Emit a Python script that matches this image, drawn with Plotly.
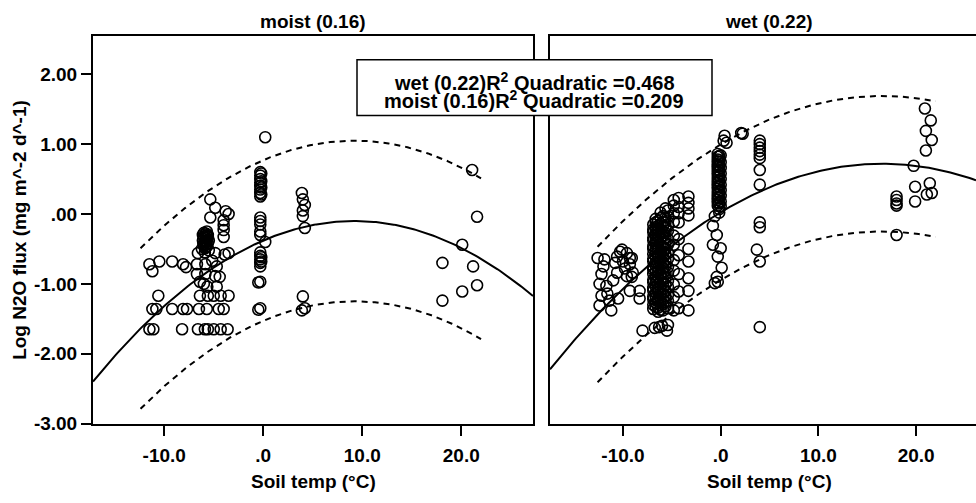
import numpy as np
import plotly.graph_objects as go

# ---- axis ticks -------------------------------------------------------------
x_tick_vals = [-10, 0, 10, 20]
x_tick_text = ["-10.0", ".0", "10.0", "20.0"]
y_tick_vals = [2, 1, 0, -1, -2, -3]
y_tick_text = ["2.00", "1.00", ".00", "-1.00", "-2.00", "-3.00"]

panel_titles = ["moist (0.16)", "wet (0.22)"]
x_title = "Soil temp (°C)"
y_title = "Log N2O flux (mg m^-2 d^-1)"
legend_lines = [
    "wet (0.22)R<sup>2</sup> Quadratic =0.468",
    "moist (0.16)R<sup>2</sup> Quadratic =0.209",
]

# ---- quadratic fits (vertex form) and prediction band half-width -------------
moist_fit = {"peak_x": 9.2, "peak_y": -0.10, "curv": 0.0033, "band": 1.15,
             "x_min": -12.4, "x_max": 22.0}
wet_fit = {"peak_x": 16.5, "peak_y": 0.72, "curv": 0.00255, "band": 0.97,
           "x_min": -12.6, "x_max": 22.0}

# ---- moist (0.16) observations ---------------------------------------------
moist_cold_x = [-11.5, -11.2, -10.5, -9.2, -8.1, -7.8, -10.6,
                -11.2, -10.8, -9.2, -8.1, -7.7, -6.5, -5.7, -4.5, -4.0,
                -11.5, -11.1, -8.2, -6.6, -5.9, -5.6, -5.0, -4.3, -3.6,
                -6.4, -5.6, -5.0, -4.3, -3.5]
moist_cold_y = [-0.72, -0.82, -0.68, -0.68, -0.72, -0.76, -1.17,
                -1.36, -1.36, -1.36, -1.36, -1.36, -1.36, -1.36, -1.36, -1.36,
                -1.65, -1.65, -1.65, -1.65, -1.65, -1.65, -1.65, -1.65, -1.65,
                -1.17, -1.17, -1.17, -1.17, -1.17]

moist_mid_x = [-5.35, -4.85, -5.35, -3.8, -3.5, -4.0, -4.0, -4.0, -4.0,
               -5.8, -5.6, -6.0, -5.7, -6.1, -5.9, -5.6, -6.0, -5.8, -6.2,
               -5.5, -5.9, -6.1, -5.5, -5.7, -6.0, -5.8,
               -5.75, -5.95, -5.65, -5.85, -6.05, -5.7, -5.9, -5.6, -5.8,
               -6.6, -4.85, -3.5, -3.9,
               -6.7, -5.85, -5.15, -4.7,
               -6.7, -5.85, -4.85, -4.4,
               -6.4, -5.65, -4.7, -6.0]
moist_mid_y = [0.21, 0.09, -0.05, 0.04, 0.00, -0.09, -0.16, -0.23, -0.33,
               -0.28, -0.30, -0.32, -0.35, -0.38, -0.40, -0.42, -0.45, -0.48, -0.50,
               -0.52, -0.55, -0.30, -0.38, -0.25, -0.27, -0.44,
               -0.31, -0.34, -0.37, -0.41, -0.43, -0.46, -0.49, -0.33, -0.39,
               -0.56, -0.56, -0.56, -0.58,
               -0.72, -0.72, -0.67, -0.75,
               -0.86, -0.86, -0.89, -0.90,
               -0.97, -1.04, -1.04, -1.00]

moist_zero_x = [0.2, -0.3, -0.3, -0.3, -0.3, -0.3, -0.3, -0.3, -0.3,
                -0.2, -0.2, -0.2, -0.2,
                -0.3, -0.3, -0.3, -0.3, -0.3, 0.2,
                -0.3, -0.3, -0.3, -0.3, -0.3, -0.2, -0.2,
                -0.3, -0.3, -0.5, -0.5]
moist_zero_y = [1.10, 0.60, 0.55, 0.50, 0.45, 0.40, 0.35, 0.30, 0.25,
                0.58, 0.47, 0.38, 0.28,
                -0.05, -0.10, -0.15, -0.25, -0.30, -0.40,
                -0.55, -0.60, -0.65, -0.70, -0.75, -0.62, -0.68,
                -0.97, -1.35, -0.98, -1.37]

moist_warm_x = [3.9, 4.0, 4.2, 4.0, 4.0, 4.2, 4.0, 4.2, 3.9,
                21.1, 21.6, 20.1, 18.1, 21.2, 21.6, 20.1, 18.1]
moist_warm_y = [0.30, 0.21, 0.13, 0.05, -0.03, -0.20, -1.18, -1.35, -1.38,
                0.63, -0.04, -0.44, -0.70, -0.75, -1.02, -1.11, -1.24]

# ---- wet (0.22) observations -----------------------------------------------
wet_cold_x = [-12.6, -11.9, -12.2, -12.4, -11.7, -12.2, -11.6, -12.4, -11.2,
              -11.4, -10.5, -10.3, -9.6, -9.1, -10.6, -10.0, -9.3, -10.6,
              -9.0, -9.6, -9.3, -8.3, -8.3, -10.1, -9.3, -9.1, -12.0, -11.0,
              -10.8, -9.8]
wet_cold_y = [-0.63, -0.65, -0.86, -1.00, -1.03, -1.17, -1.14, -1.31, -1.38,
              -1.24, -1.21, -0.54, -0.56, -0.63, -0.61, -0.68, -0.72, -0.84,
              -0.84, -0.89, -1.10, -1.10, -1.21, -0.51, -0.63, -0.90, -0.75,
              -0.95, -0.70, -0.78]

wet_low_x = [-8.0, -6.75, -6.0, -5.5, -5.4, -6.3]
wet_low_y = [-1.67, -1.63, -1.60, -1.67, -1.59, -1.62]

wet_dense_x = ([-6.9] * 21 + [-6.4] * 22 + [-5.9] * 19 + [-5.4] * 15
               + [-4.8] * 11 + [-4.3] * 9 + [-3.3] * 9
               + [-6.65] * 20 + [-6.15] * 20 + [-5.65] * 18)
wet_dense_y = [
    -1.36, -1.30, -1.22, -1.18, -1.10, -1.06, -0.98, -0.94, -0.86, -0.80,
    -0.76, -0.68, -0.64, -0.57, -0.50, -0.46, -0.38, -0.34, -0.26, -0.22, -0.15,
    -1.40, -1.34, -1.25, -1.21, -1.12, -1.07, -1.01, -0.93, -0.89, -0.81, -0.77,
    -0.70, -0.63, -0.59, -0.51, -0.47, -0.41, -0.33, -0.29, -0.21, -0.17, -0.10,
    -1.38, -1.29, -1.23, -1.14, -1.08, -0.99, -0.93, -0.84, -0.78, -0.71, -0.61,
    -0.56, -0.47, -0.41, -0.31, -0.26, -0.17, -0.11, -0.03,
    -1.35, -1.24, -1.16, -1.04, -0.96, -0.84, -0.76, -0.64, -0.56, -0.44, -0.36,
    -0.24, -0.16, -0.04, 0.05,
    -1.38, -1.19, -1.01, -0.81, -0.66, -0.44, -0.31, -0.11, 0.01, 0.12, 0.20,
    -1.35, -1.11, -0.86, -0.59, -0.36, -0.12, 0.01, 0.10, 0.23,
    0.25, 0.16, 0.08, -0.02, -0.50, -0.68, -0.92, -1.10, -1.38,
    -1.33, -1.27, -1.19, -1.13, -1.04, -0.97, -0.91, -0.83, -0.74, -0.69,
    -0.61, -0.54, -0.48, -0.42, -0.36, -0.30, -0.24, -0.19, -0.12, -0.07,
    -1.37, -1.31, -1.24, -1.16, -1.09, -1.03, -0.96, -0.87, -0.79, -0.73,
    -0.66, -0.58, -0.52, -0.44, -0.37, -0.28, -0.22, -0.14, -0.06, 0.02,
    -1.32, -1.26, -1.18, -1.11, -1.01, -0.92, -0.86, -0.75, -0.67, -0.58,
    -0.50, -0.42, -0.34, -0.27, -0.19, -0.12, -0.05, 0.08,
]

wet_zero_x = ([-0.3] * 20 + [0.0] * 10 + [-0.15] * 12
              + [-0.6, -0.8, -0.4, -0.8, 0.0, -0.3, 0.1, -0.4, -0.6, -0.3]
              + [0.4, 0.6, 0.3, 2.25, 2.1])
wet_zero_y = ([0.86, 0.82, 0.78, 0.75, 0.71, 0.68, 0.64, 0.60, 0.56, 0.52,
               0.48, 0.44, 0.40, 0.36, 0.32, 0.28, 0.24, 0.20, 0.16, 0.12]
              + [0.84, 0.74, 0.66, 0.58, 0.50, 0.42, 0.34, 0.26, 0.18, 0.11]
              + [0.83, 0.77, 0.69, 0.62, 0.55, 0.47, 0.39, 0.31, 0.23, 0.15,
                 0.07, 0.02]
              + [-0.03, -0.17, -0.30, -0.44, -0.49, -0.61, -0.77, -0.90, -0.99, -0.97]
              + [1.12, 1.02, 1.05, 1.15, 1.16])

wet_warm_x = [4.0, 4.0, 4.0, 4.0, 4.0, 4.0, 4.0, 4.0, 4.0, 4.0, 3.7, 4.0, 4.0,
              18.0, 18.0, 18.0, 18.0, 18.0, 19.9, 19.9, 19.75, 21.4, 21.1, 21.6,
              20.9, 21.5, 21.0, 21.6, 21.0]
wet_warm_y = [1.05, 1.00, 0.95, 0.90, 0.85, 0.80, 0.63, 0.42, -0.12, -0.19,
              -0.51, -0.68, -1.62,
              0.25, 0.20, 0.15, 0.12, -0.30, 0.39, 0.18, 0.69, 0.44, 0.28, 0.30,
              1.51, 1.34, 1.19, 1.06, 0.91]

# ---- geometry (pixels of the 976 x 503 page) --------------------------------
W, H = 976, 503
LEFT_PANEL = (93, 533)
RIGHT_PANEL = (550, 976)
PLOT_TOP, PLOT_BOTTOM = 37, 433
x_range_left = [-17.2, 27.25]
x_range_right = [-17.47, 26.13]
y_range = [-3.0, 2.546]


def px(x):
    return x / W


def py(y):
    return 1 - y / H


FONT = "Liberation Sans, Arial, sans-serif"
BOLD = dict(family=FONT, size=19, color="black", weight="bold")
LEGEND_FONT = dict(family=FONT, size=20, color="black", weight="bold")

fig = go.Figure()


def quad(fit, x):
    return fit["peak_y"] - fit["curv"] * (x - fit["peak_x"]) ** 2


def add_panel(fit, xs, ys, xaxis, yaxis, xr):
    for x, y in zip(xs, ys):
        fig.add_trace(go.Scatter(
            x=x, y=y, mode="markers", xaxis=xaxis, yaxis=yaxis,
            marker=dict(symbol="circle-open", size=11, color="black",
                        line=dict(width=1.6)),
            showlegend=False, hoverinfo="skip"))
    xf = np.linspace(xr[0], xr[1], 200)
    fig.add_trace(go.Scatter(
        x=xf, y=quad(fit, xf), mode="lines", xaxis=xaxis, yaxis=yaxis,
        line=dict(color="black", width=2), showlegend=False, hoverinfo="skip"))
    xb = np.linspace(fit["x_min"], fit["x_max"], 200)
    for sign in (1, -1):
        fig.add_trace(go.Scatter(
            x=xb, y=quad(fit, xb) + sign * fit["band"], mode="lines",
            xaxis=xaxis, yaxis=yaxis,
            line=dict(color="black", width=2, dash="6px,5px"),
            showlegend=False, hoverinfo="skip"))


add_panel(moist_fit,
          [moist_cold_x, moist_mid_x, moist_zero_x, moist_warm_x],
          [moist_cold_y, moist_mid_y, moist_zero_y, moist_warm_y],
          "x", "y", x_range_left)
add_panel(wet_fit,
          [wet_cold_x, wet_low_x, wet_dense_x, wet_zero_x, wet_warm_x],
          [wet_cold_y, wet_low_y, wet_dense_y, wet_zero_y, wet_warm_y],
          "x2", "y2", x_range_right)

axis_common = dict(showgrid=False, zeroline=False, showline=True,
                   linecolor="black", linewidth=2, ticks="outside",
                   ticklen=10, tickwidth=2, tickcolor="black",
                   tickfont=BOLD)

fig.update_layout(
    width=W, height=H,
    margin=dict(l=0, r=0, t=0, b=0),
    paper_bgcolor="white", plot_bgcolor="white",
    xaxis=dict(domain=[px(LEFT_PANEL[0]), px(LEFT_PANEL[1])], range=x_range_left,
               tickvals=x_tick_vals, ticktext=x_tick_text, mirror=True,
               anchor="y", ticklabelstandoff=4, **axis_common),
    yaxis=dict(domain=[py(PLOT_BOTTOM), py(PLOT_TOP)], range=y_range,
               tickvals=y_tick_vals, ticktext=y_tick_text, mirror=True,
               anchor="x", ticklabelstandoff=0, **axis_common),
    xaxis2=dict(domain=[px(RIGHT_PANEL[0]), 1.0], range=x_range_right,
                tickvals=x_tick_vals, ticktext=x_tick_text, mirror=True,
                anchor="y2", ticklabelstandoff=4, **axis_common),
    yaxis2=dict(domain=[py(PLOT_BOTTOM), py(PLOT_TOP)], range=y_range,
                showgrid=False, zeroline=False, showline=True,
                linecolor="black", linewidth=2, showticklabels=False,
                ticks="", anchor="x2"),
)

ann = []
for title, cx in zip(panel_titles, (313, 769)):
    ann.append(dict(x=px(cx), y=py(22), xref="paper", yref="paper",
                    text=title, showarrow=False, font=BOLD,
                    xanchor="center", yanchor="middle"))
    ann.append(dict(x=px(cx), y=py(492), xref="paper", yref="paper",
                    text=x_title, showarrow=False, font=BOLD,
                    xanchor="center", yanchor="middle"))
ann.append(dict(x=px(20), y=py(235), xref="paper", yref="paper",
                text=y_title, showarrow=False, font=BOLD, textangle=-90,
                xanchor="center", yanchor="middle"))
for line, cy in zip(legend_lines, (83, 102)):
    ann.append(dict(x=px(534), y=py(cy), xref="paper", yref="paper",
                    text=line, showarrow=False, font=LEGEND_FONT,
                    xanchor="center", yanchor="middle"))
fig.update_layout(annotations=ann)

fig.add_shape(type="rect", xref="paper", yref="paper",
              x0=px(357), x1=px(712), y0=py(61), y1=py(118),
              fillcolor="white", line=dict(color="black", width=1.5),
              layer="above")

fig.write_html("out.html")
